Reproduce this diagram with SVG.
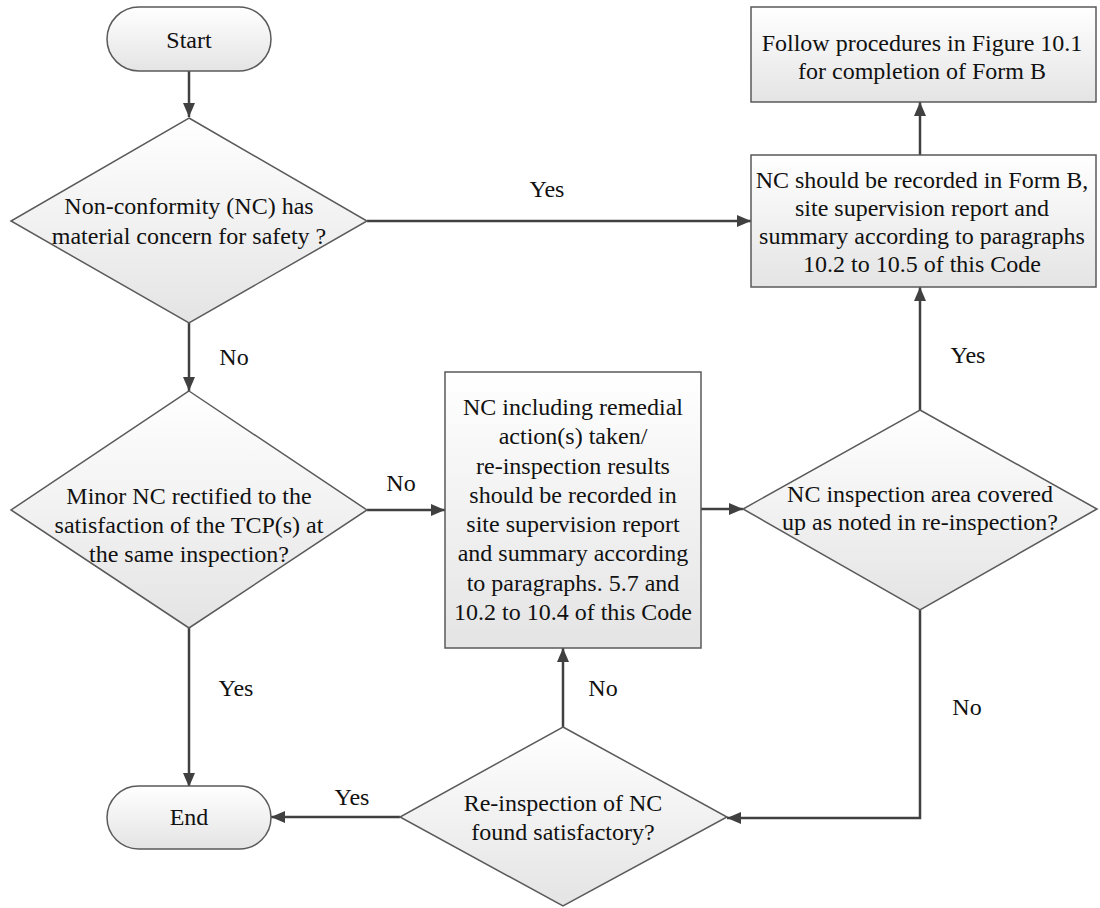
<svg xmlns="http://www.w3.org/2000/svg" width="1100" height="908" viewBox="0 0 1100 908">
<defs>
<linearGradient id="g" x1="0" y1="0" x2="0" y2="1">
<stop offset="0" stop-color="#ffffff"/>
<stop offset="1" stop-color="#e4e4e4"/>
</linearGradient>
<marker id="ah" markerUnits="userSpaceOnUse" markerWidth="14" markerHeight="12" viewBox="0 0 14 12" refX="14" refY="6" orient="auto">
<path d="M0,0 L14,6 L0,12 z" fill="#404040"/>
</marker>
</defs>
<style>
.n{fill:url(#g);stroke:#5a5a5a;stroke-width:1.5}
.t{font-family:"Liberation Serif","Times New Roman",serif;font-size:24px;fill:#111;text-anchor:middle}
.c{fill:none;stroke:#404040;stroke-width:2.5;marker-end:url(#ah)}
</style>
<rect width="1100" height="908" fill="#ffffff"/>
<g id="connectors">
<path class="c" d="M189,71 V117"/>
<path class="c" d="M367,221 H751"/>
<path class="c" d="M189,323 V391"/>
<path class="c" d="M367,510 H445"/>
<path class="c" d="M189,628 V787"/>
<path class="c" d="M701,509 H743"/>
<path class="c" d="M920,410 V287"/>
<path class="c" d="M920,155 V102"/>
<path class="c" d="M920,610 V818 H727"/>
<path class="c" d="M563,727 V648"/>
<path class="c" d="M400,817 H271"/>
<text class="t" x="547" y="197">Yes</text>
<text class="t" x="234" y="365">No</text>
<text class="t" x="401" y="491">No</text>
<text class="t" x="968" y="363">Yes</text>
<text class="t" x="236" y="696">Yes</text>
<text class="t" x="603" y="696">No</text>
<text class="t" x="967" y="715">No</text>
<text class="t" x="352" y="805">Yes</text>
</g>
<g id="start">
<rect class="n" x="107" y="7" width="164" height="64" rx="32" ry="32"/>
<text class="t" x="189" y="48">Start</text>
</g>
<g id="d1">
<polygon class="n" points="189,118 367,221 189,323 11,221"/>
<text class="t" x="189" y="214">Non-conformity (NC) has</text>
<text class="t" x="189" y="244">material concern for safety ?</text>
</g>
<g id="boxA">
<rect class="n" x="751" y="7" width="345" height="95"/>
<text class="t" x="922" y="51">Follow procedures in Figure 10.1</text>
<text class="t" x="922" y="79">for completion of Form B</text>
</g>
<g id="boxB">
<rect class="n" x="751" y="155" width="345" height="132"/>
<text class="t" x="922" y="188">NC should be recorded in Form B,</text>
<text class="t" x="922" y="216">site supervision report and</text>
<text class="t" x="922" y="244">summary according to paragraphs</text>
<text class="t" x="922" y="272">10.2 to 10.5 of this Code</text>
</g>
<g id="d2">
<polygon class="n" points="189,391 367,510 189,628 11,510"/>
<text class="t" x="189" y="504">Minor NC rectified to the</text>
<text class="t" x="189" y="533">satisfaction of the TCP(s) at</text>
<text class="t" x="189" y="562">the same inspection?</text>
</g>
<g id="boxC">
<rect class="n" x="445" y="372" width="256" height="276"/>
<text class="t" x="573" y="415">NC including remedial</text>
<text class="t" x="573" y="444">action(s) taken/</text>
<text class="t" x="573" y="474">re-inspection results</text>
<text class="t" x="573" y="503">should be recorded in</text>
<text class="t" x="573" y="532">site supervision report</text>
<text class="t" x="573" y="561">and summary according</text>
<text class="t" x="573" y="591">to paragraphs. 5.7 and</text>
<text class="t" x="573" y="620">10.2 to 10.4 of this Code</text>
</g>
<g id="d3">
<polygon class="n" points="920,410 1097,509 920,610 743,509"/>
<text class="t" x="920" y="502">NC inspection area covered</text>
<text class="t" x="920" y="530">up as noted in re-inspection?</text>
</g>
<g id="d4">
<polygon class="n" points="563,727 727,817 563,906 400,817"/>
<text class="t" x="563" y="811">Re-inspection of NC</text>
<text class="t" x="563" y="840">found satisfactory?</text>
</g>
<g id="end">
<rect class="n" x="107" y="786" width="164" height="63" rx="31.5" ry="31.5"/>
<text class="t" x="189" y="825">End</text>
</g>
</svg>
